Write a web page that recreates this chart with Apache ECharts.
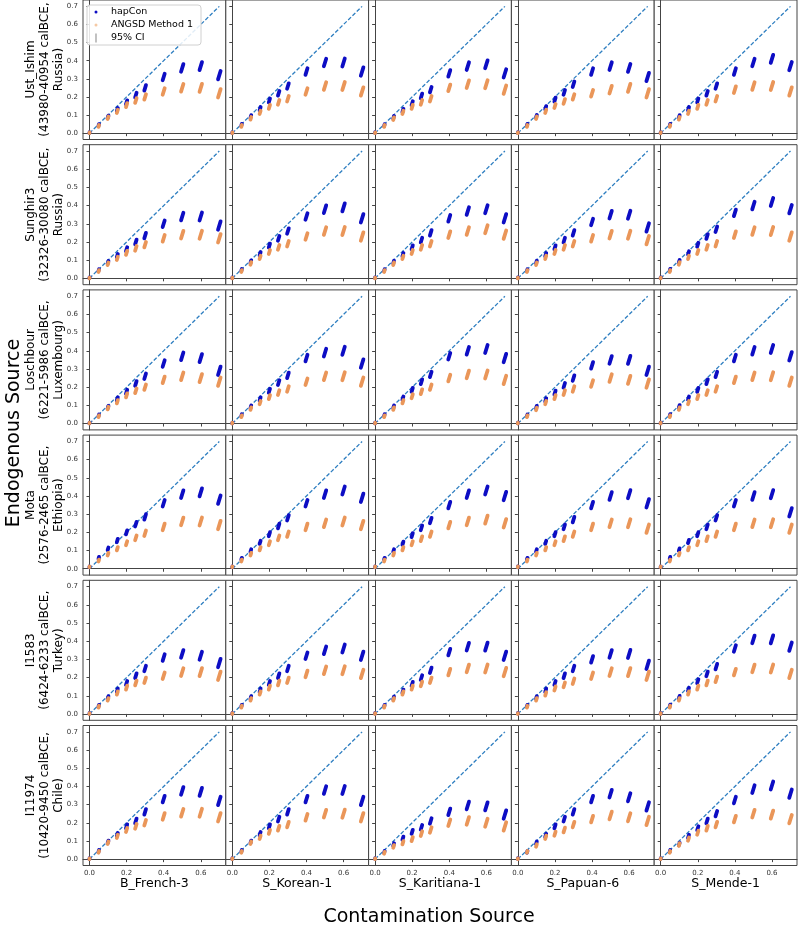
<!DOCTYPE html>
<html>
<head>
<meta charset="utf-8">
<script src="https://cdn.jsdelivr.net/npm/echarts@6/dist/echarts.min.js"></script>
<style>
  html, body { margin: 0; padding: 0; background: #fff; }
  #chart { width: 798px; height: 926px; }
</style>
</head>
<body>
<div id="chart"></div>
<script>
// contamination levels on the x axis
const xLevels = [0, 0.05, 0.1, 0.15, 0.2, 0.25, 0.3, 0.4, 0.5, 0.6, 0.7]
const xTicks = [0, 0.2, 0.4, 0.6]
const yTicks = [0, 0.1, 0.2, 0.3, 0.4, 0.5, 0.6, 0.7]
const diagonal = [0, 0.7]

// half width of the 95% CI spread per level
const hapConCI = [0.002, 0.005, 0.007, 0.009, 0.011, 0.013, 0.015, 0.018, 0.021, 0.022, 0.023]
const angsdCI = [0.002, 0.005, 0.007, 0.009, 0.011, 0.013, 0.015, 0.018, 0.021, 0.022, 0.023]

const endogenous = [
    'Ust_Ishim\n(43980-40954 calBCE,\nRussia)',
    'Sunghir3\n(32326-30080 calBCE,\nRussia)',
    'Loschbour\n(6221-5986 calBCE,\nLuxembourg)',
    'Mota\n(2576-2465 calBCE,\nEthiopia)',
    'I1583\n(6424-6233 calBCE,\nTurkey)',
    'I11974\n(10420-9450 calBCE,\nChile)'
]
const contaminants = ['B_French-3', 'S_Korean-1', 'S_Karitiana-1', 'S_Papuan-6', 'S_Mende-1']

// hapCon estimates, one list per contamination source
const hapUstIshim = [
    [0.003, 0.045, 0.09, 0.13, 0.17, 0.21, 0.25, 0.31, 0.36, 0.37, 0.32],
    [0.003, 0.046, 0.092, 0.135, 0.18, 0.22, 0.26, 0.34, 0.39, 0.39, 0.34],
    [0.003, 0.044, 0.088, 0.125, 0.165, 0.205, 0.24, 0.33, 0.37, 0.38, 0.33],
    [0.003, 0.046, 0.093, 0.14, 0.185, 0.225, 0.27, 0.34, 0.37, 0.36, 0.31],
    [0.003, 0.046, 0.092, 0.135, 0.18, 0.22, 0.26, 0.34, 0.39, 0.41, 0.37]
]
const hapSunghir3 = [
    [0.003, 0.045, 0.088, 0.125, 0.16, 0.2, 0.235, 0.3, 0.34, 0.34, 0.29],
    [0.003, 0.046, 0.092, 0.135, 0.18, 0.22, 0.26, 0.34, 0.38, 0.39, 0.33],
    [0.003, 0.045, 0.09, 0.13, 0.17, 0.21, 0.25, 0.33, 0.37, 0.38, 0.33],
    [0.003, 0.045, 0.09, 0.13, 0.17, 0.21, 0.25, 0.31, 0.35, 0.35, 0.28],
    [0.003, 0.047, 0.094, 0.14, 0.185, 0.23, 0.27, 0.36, 0.4, 0.42, 0.38]
]
const hapLoschbour = [
    [0.003, 0.045, 0.09, 0.135, 0.175, 0.22, 0.26, 0.33, 0.37, 0.36, 0.29],
    [0.003, 0.046, 0.092, 0.135, 0.18, 0.225, 0.265, 0.36, 0.39, 0.4, 0.33],
    [0.003, 0.046, 0.092, 0.14, 0.185, 0.23, 0.27, 0.37, 0.4, 0.41, 0.36],
    [0.003, 0.045, 0.09, 0.13, 0.17, 0.21, 0.25, 0.32, 0.35, 0.35, 0.29],
    [0.003, 0.047, 0.094, 0.14, 0.185, 0.23, 0.27, 0.36, 0.4, 0.41, 0.37]
]
const hapMota = [
    [0.01, 0.06, 0.11, 0.155, 0.2, 0.245, 0.285, 0.36, 0.41, 0.42, 0.38],
    [0.01, 0.055, 0.1, 0.145, 0.19, 0.235, 0.28, 0.36, 0.41, 0.43, 0.39],
    [0.01, 0.055, 0.1, 0.14, 0.185, 0.225, 0.265, 0.35, 0.41, 0.43, 0.4],
    [0.01, 0.055, 0.1, 0.145, 0.19, 0.23, 0.27, 0.35, 0.4, 0.41, 0.36],
    [0.01, 0.06, 0.105, 0.15, 0.19, 0.23, 0.28, 0.36, 0.4, 0.41, 0.31]
]
const hapI1583 = [
    [0.003, 0.045, 0.09, 0.13, 0.17, 0.21, 0.25, 0.31, 0.33, 0.32, 0.28],
    [0.003, 0.045, 0.09, 0.13, 0.17, 0.21, 0.25, 0.32, 0.35, 0.36, 0.32],
    [0.003, 0.045, 0.088, 0.125, 0.165, 0.2, 0.24, 0.34, 0.37, 0.37, 0.32],
    [0.003, 0.045, 0.09, 0.13, 0.17, 0.21, 0.25, 0.3, 0.33, 0.33, 0.27],
    [0.003, 0.046, 0.092, 0.135, 0.18, 0.22, 0.26, 0.36, 0.41, 0.41, 0.37]
]
const hapI11974 = [
    [0.003, 0.045, 0.095, 0.135, 0.18, 0.21, 0.26, 0.33, 0.375, 0.37, 0.32],
    [0.003, 0.045, 0.095, 0.14, 0.18, 0.22, 0.26, 0.33, 0.38, 0.38, 0.32],
    [0.003, 0.04, 0.08, 0.115, 0.15, 0.175, 0.21, 0.26, 0.295, 0.29, 0.245],
    [0.003, 0.04, 0.09, 0.13, 0.18, 0.22, 0.26, 0.33, 0.36, 0.34, 0.29],
    [0.003, 0.045, 0.083, 0.125, 0.17, 0.21, 0.25, 0.325, 0.385, 0.405, 0.36]
]

// ANGSD Method 1 estimates
const angsdUstIshim = [
    [0.002, 0.04, 0.085, 0.12, 0.155, 0.18, 0.2, 0.23, 0.25, 0.25, 0.22],
    [0.002, 0.04, 0.082, 0.115, 0.145, 0.17, 0.19, 0.23, 0.26, 0.26, 0.23],
    [0.002, 0.04, 0.08, 0.115, 0.145, 0.17, 0.19, 0.25, 0.27, 0.27, 0.24],
    [0.002, 0.04, 0.085, 0.12, 0.15, 0.175, 0.2, 0.22, 0.24, 0.25, 0.22],
    [0.002, 0.04, 0.082, 0.115, 0.145, 0.17, 0.19, 0.24, 0.26, 0.26, 0.23]
]
const angsdSunghir3 = [
    [0.002, 0.04, 0.08, 0.11, 0.14, 0.165, 0.185, 0.22, 0.24, 0.24, 0.22],
    [0.002, 0.04, 0.082, 0.115, 0.145, 0.17, 0.19, 0.23, 0.26, 0.26, 0.23],
    [0.002, 0.04, 0.08, 0.115, 0.145, 0.17, 0.19, 0.24, 0.26, 0.27, 0.24],
    [0.002, 0.04, 0.08, 0.115, 0.145, 0.17, 0.19, 0.22, 0.24, 0.24, 0.21],
    [0.002, 0.04, 0.082, 0.115, 0.145, 0.17, 0.19, 0.24, 0.26, 0.26, 0.23]
]
const angsdLoschbour = [
    [0.002, 0.04, 0.085, 0.12, 0.155, 0.18, 0.2, 0.24, 0.26, 0.25, 0.23],
    [0.002, 0.04, 0.082, 0.115, 0.145, 0.17, 0.19, 0.23, 0.26, 0.26, 0.23],
    [0.002, 0.04, 0.082, 0.12, 0.15, 0.175, 0.2, 0.25, 0.27, 0.27, 0.24],
    [0.002, 0.04, 0.08, 0.115, 0.145, 0.17, 0.19, 0.22, 0.25, 0.24, 0.22],
    [0.002, 0.04, 0.082, 0.115, 0.145, 0.17, 0.19, 0.24, 0.26, 0.26, 0.23]
]
const angsdMota = [
    [0.01, 0.045, 0.08, 0.11, 0.14, 0.17, 0.195, 0.23, 0.26, 0.26, 0.24],
    [0.01, 0.045, 0.08, 0.11, 0.14, 0.17, 0.19, 0.23, 0.25, 0.26, 0.24],
    [0.01, 0.045, 0.08, 0.11, 0.14, 0.165, 0.19, 0.24, 0.26, 0.27, 0.25],
    [0.01, 0.045, 0.08, 0.11, 0.14, 0.165, 0.19, 0.23, 0.25, 0.25, 0.22],
    [0.01, 0.045, 0.08, 0.11, 0.14, 0.165, 0.19, 0.23, 0.25, 0.25, 0.22]
]
const angsdI1583 = [
    [0.002, 0.04, 0.08, 0.115, 0.145, 0.17, 0.185, 0.21, 0.23, 0.23, 0.21],
    [0.002, 0.04, 0.08, 0.115, 0.145, 0.17, 0.185, 0.22, 0.24, 0.24, 0.22],
    [0.002, 0.04, 0.08, 0.115, 0.145, 0.165, 0.185, 0.23, 0.25, 0.25, 0.23],
    [0.002, 0.04, 0.08, 0.11, 0.14, 0.16, 0.18, 0.21, 0.23, 0.23, 0.21],
    [0.002, 0.04, 0.08, 0.115, 0.145, 0.17, 0.19, 0.23, 0.25, 0.25, 0.22]
]
const angsdI11974 = [
    [0.002, 0.04, 0.09, 0.125, 0.16, 0.18, 0.2, 0.235, 0.255, 0.255, 0.23],
    [0.002, 0.04, 0.09, 0.12, 0.15, 0.17, 0.19, 0.23, 0.25, 0.25, 0.23],
    [0.002, 0.035, 0.07, 0.09, 0.11, 0.14, 0.16, 0.2, 0.21, 0.2, 0.18],
    [0.002, 0.04, 0.075, 0.12, 0.14, 0.16, 0.19, 0.22, 0.24, 0.23, 0.21],
    [0.002, 0.04, 0.08, 0.11, 0.145, 0.17, 0.19, 0.22, 0.25, 0.245, 0.22]
]

const hapRows = [hapUstIshim, hapSunghir3, hapLoschbour, hapMota, hapI1583, hapI11974]
const angsdRows = [angsdUstIshim, angsdSunghir3, angsdLoschbour, angsdMota, angsdI1583, angsdI11974]

const hapColor = '#0d0dc4'
const angsdColor = '#ea9659'
const lineColor = '#2f7fc1'
const font = 'DejaVu Sans'

// panel layout (pixels)
const left0 = 83, colW = 142.8, top0 = -0.5, rowH = 140, rowStep = 145.2
const axMin = -0.035, axMax = 0.735

// draws one point cluster as a slanted stroke spanning its CI
function blob(color) {
    return function (params, api) {
        const x = api.value(0), y = api.value(1), h = api.value(2)
        const dx = h * 0.3
        const a = api.coord([x - dx, y - h])
        const b = api.coord([x + dx, y + h])
        return {
            type: 'line',
            shape: { x1: a[0], y1: a[1], x2: b[0], y2: b[1] },
            style: { stroke: color, lineWidth: 3.8, lineCap: 'round' }
        }
    }
}

const grids = [], xAxes = [], yAxes = [], series = [], graphics = []

for (let r = 0; r < 6; r++) {
    for (let c = 0; c < 5; c++) {
        const i = r * 5 + c
        grids.push({
            left: left0 + c * colW, top: top0 + r * rowStep, width: colW, height: rowH,
            show: true, borderColor: '#444', borderWidth: 1, backgroundColor: '#fff'
        })
        xAxes.push({
            type: 'value', gridIndex: i, min: axMin, max: axMax,
            axisLine: { show: true, lineStyle: { color: '#444', width: 1 } },
            axisTick: { show: true, length: 3, customValues: xTicks, lineStyle: { color: '#444' } },
            axisLabel: {
                show: r === 5, customValues: xTicks, fontSize: 7, margin: 4,
                color: '#333', fontFamily: font, formatter: v => v.toFixed(1)
            },
            splitLine: { show: false }
        })
        yAxes.push({
            type: 'value', gridIndex: i, min: axMin, max: axMax,
            axisLine: { show: true, lineStyle: { color: '#444', width: 1 } },
            axisTick: { show: true, length: 3, customValues: yTicks, lineStyle: { color: '#444' } },
            axisLabel: {
                show: c === 0, customValues: yTicks, fontSize: 7, margin: 5,
                color: '#333', fontFamily: font, formatter: v => v.toFixed(1)
            },
            splitLine: { show: false }
        })
        series.push({
            type: 'line', xAxisIndex: i, yAxisIndex: i, z: 1,
            data: diagonal.map(v => [v, v]),
            symbol: 'none', silent: true,
            itemStyle: { color: lineColor },
            lineStyle: { color: lineColor, width: 1.3, type: [4, 2] }
        })
        series.push({
            type: 'custom', name: 'hapCon', xAxisIndex: i, yAxisIndex: i, z: 2,
            itemStyle: { color: hapColor },
            renderItem: blob(hapColor),
            encode: { x: 0, y: 1 },
            data: xLevels.map((x, k) => [x, hapRows[r][c][k], hapConCI[k]])
        })
        series.push({
            type: 'custom', name: 'ANGSD Method 1', xAxisIndex: i, yAxisIndex: i, z: 3,
            itemStyle: { color: angsdColor },
            renderItem: blob(angsdColor),
            encode: { x: 0, y: 1 },
            data: xLevels.map((x, k) => [x, angsdRows[r][c][k], angsdCI[k]])
        })
    }
    graphics.push({
        type: 'text', x: 45, y: top0 + r * rowStep + rowH / 2, rotation: Math.PI / 2,
        style: {
            text: endogenous[r], font: '12px "DejaVu Sans"', fill: '#000',
            align: 'center', verticalAlign: 'middle', lineHeight: 14
        }
    })
}

// empty series so the legend can show the CI entry
series.push({
    type: 'custom', name: '95% CI', xAxisIndex: 0, yAxisIndex: 0,
    itemStyle: { color: '#666' }, renderItem: () => null, data: []
})

contaminants.forEach((name, c) => {
    graphics.push({
        type: 'text', x: left0 + (c + 0.5) * colW, y: 884,
        style: {
            text: name, font: '12.5px "DejaVu Sans"', fill: '#000',
            align: 'center', verticalAlign: 'middle'
        }
    })
})
graphics.push({
    type: 'text', x: 429, y: 917,
    style: { text: 'Contamination Source', font: '19px "DejaVu Sans"', fill: '#000', align: 'center', verticalAlign: 'middle' }
})
graphics.push({
    type: 'text', x: 14, y: 433, rotation: Math.PI / 2,
    style: { text: 'Endogenous Source', font: '19px "DejaVu Sans"', fill: '#000', align: 'center', verticalAlign: 'middle' }
})

const dotIcon = 'path://M0,0M10,10M3.5,5A1.5,1.5,0,1,1,6.5,5A1.5,1.5,0,1,1,3.5,5Z'
const ciIcon = 'path://M0,0M10,10M4.6,0.5H5.4V9.5H4.6Z'

const chart = echarts.init(document.getElementById('chart'))
chart.setOption({
    animation: false,
    textStyle: { fontFamily: font },
    grid: grids,
    xAxis: xAxes,
    yAxis: yAxes,
    legend: {
        left: 87, top: 5, orient: 'vertical', selectedMode: false,
        itemWidth: 20, itemHeight: 10, itemGap: 3,
        padding: [2, 8, 2, 4],
        borderColor: '#d0d0d0', borderWidth: 1, borderRadius: 3,
        backgroundColor: 'rgba(255,255,255,0.85)',
        textStyle: { fontSize: 9.5, color: '#000', fontFamily: font },
        data: [
            { name: 'hapCon', icon: dotIcon, itemStyle: { color: hapColor } },
            { name: 'ANGSD Method 1', icon: dotIcon, itemStyle: { color: '#f5c9a4' } },
            { name: '95% CI', icon: ciIcon, itemStyle: { color: '#666' } }
        ]
    },
    graphic: graphics,
    series: series
})

window.addEventListener('resize', () => {
    chart.resize()
})
</script>
</body>
</html>
